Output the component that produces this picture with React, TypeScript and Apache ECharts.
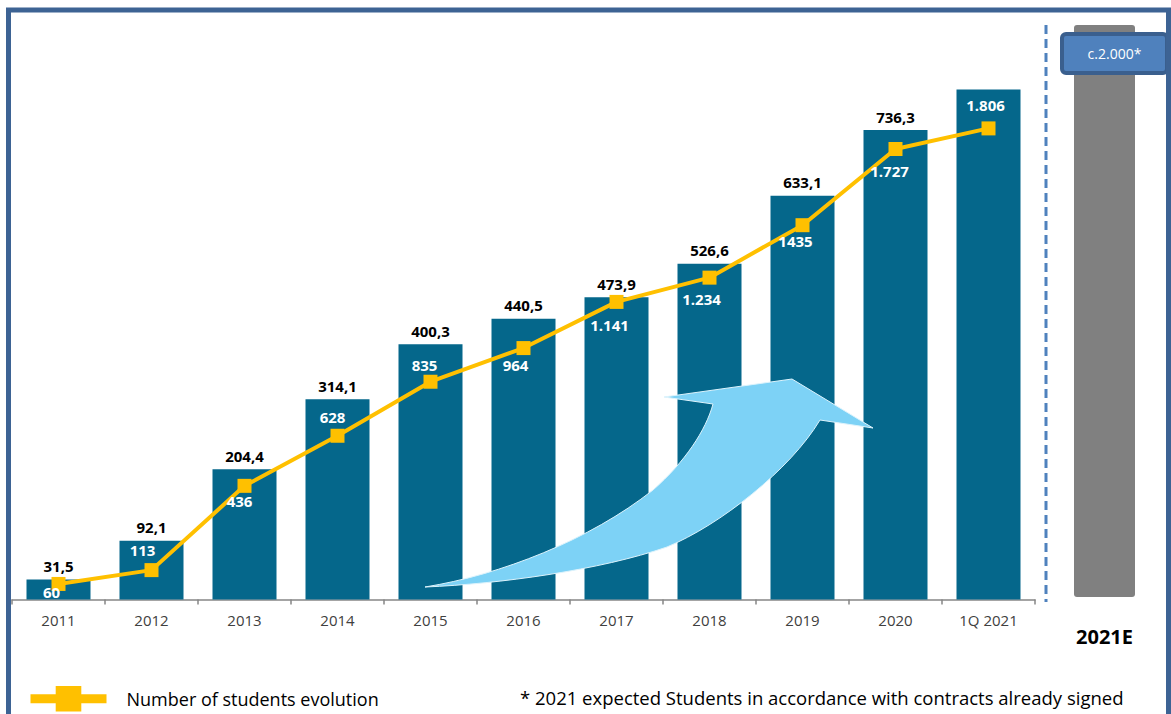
import React, { useEffect, useRef } from "react";
import * as echarts from "echarts";

const categories = ["2011", "2012", "2013", "2014", "2015", "2016", "2017", "2018", "2019", "2020", "1Q 2021"];
const revenue = [31.5, 92.1, 204.4, 314.1, 400.3, 440.5, 473.9, 526.6, 633.1, 736.3, 800];
const revenueLabels = ["31,5", "92,1", "204,4", "314,1", "400,3", "440,5", "473,9", "526,6", "633,1", "736,3", ""];
const students = [60, 113, 436, 628, 835, 964, 1141, 1234, 1435, 1727, 1806];
const studentLabels = ["60", "113", "436", "628", "835", "964", "1.141", "1.234", "1435", "1.727", "1.806"];
const estimateCategory = ["2021E"];
const estimateStudents = [2000];
const estimateLabel = "c.2.000*";
const legendName = "Number of students evolution";
const footnote = "* 2021 expected Students in accordance with contracts already signed";

// label placement (styling only)
const studentLabelOffsets: [number, number][] = [
  [-7, 8], [-9, -20], [-5, 15], [-5, -19], [-6, -17], [-8, 17],
  [-7, 23], [-8, 21], [-7, 16], [-6, 22], [-3, -23],
];

const ARROW_D =
  "M425,587 C500,584 600,570 667,547 C720,525 790,470 820,420 L873,428 L792,379 L664,397 L713,404 C706,430 685,462 653,490 C590,540 500,575 425,587 Z";

let registered = false;
function ensureShape() {
  if (registered) return;
  echarts.graphic.registerShape("growthArrow", echarts.graphic.extendPath(ARROW_D, {}));
  registered = true;
}

const FONT = "'Open Sans', 'Noto Sans', sans-serif";

export default function App() {
  const ref = useRef<HTMLDivElement>(null);
  useEffect(() => {
    if (!ref.current) return;
    ensureShape();
    const chart = echarts.init(ref.current, null, { renderer: "svg" });
    const option: any = {
      animation: false,
      backgroundColor: "#ffffff",
      textStyle: { fontFamily: FONT },
      grid: [
        { left: 12, top: 25.6, width: 1023, height: 574 },
        { left: 1064, top: 25, width: 81, height: 572 },
      ],
      xAxis: [
        {
          type: "category",
          gridIndex: 0,
          data: categories,
          axisLine: { lineStyle: { color: "#868686", width: 1.5 } },
          axisTick: { show: true, length: 5, interval: 0, lineStyle: { color: "#868686", width: 1.5 } },
          axisLabel: { color: "#404040", fontSize: 15, fontFamily: FONT, margin: 13, interval: 0 },
        },
        {
          type: "category",
          gridIndex: 1,
          data: estimateCategory,
          axisLine: { show: false },
          axisTick: { show: false },
          axisLabel: { color: "#000000", fontSize: 20, fontWeight: "bold", fontFamily: FONT, margin: 29 },
        },
      ],
      yAxis: [
        { type: "value", gridIndex: 0, min: 0, max: 900, show: false, splitLine: { show: false } },
        { type: "value", gridIndex: 0, min: 0, max: 2200, show: false, splitLine: { show: false } },
        { type: "value", gridIndex: 1, min: 0, max: 2000, show: false, splitLine: { show: false } },
      ],
      legend: {
        data: [legendName],
        left: 26,
        top: 686,
        padding: 0,
        itemWidth: 76,
        itemHeight: 32,
        lineStyle: { width: 9 },
        textStyle: { fontSize: 18, color: "#000000", fontFamily: FONT, padding: [0, 0, 0, 15] },
        selectedMode: false,
      },
      series: [
        {
          type: "bar",
          name: "Revenue",
          xAxisIndex: 0,
          yAxisIndex: 0,
          data: revenue,
          barWidth: 64,
          itemStyle: { color: "#05678B" },
          label: {
            show: true,
            position: "top",
            distance: 6,
            color: "#000000",
            fontSize: 15,
            fontWeight: "bold",
            fontFamily: FONT,
            formatter: (p: any) => revenueLabels[p.dataIndex],
          },
          z: 2,
        },
        {
          type: "line",
          name: legendName,
          xAxisIndex: 0,
          yAxisIndex: 1,
          data: students.map((v, i) => ({
            value: v,
            label: { offset: studentLabelOffsets[i] },
          })),
          symbol: "rect",
          symbolSize: 14,
          lineStyle: { color: "#FFC000", width: 4 },
          itemStyle: { color: "#FFC000" },
          label: {
            show: true,
            position: "inside",
            color: "#ffffff",
            fontSize: 15,
            fontWeight: "bold",
            fontFamily: FONT,
            formatter: (p: any) => studentLabels[p.dataIndex],
          },
          z: 10,
        },
        {
          type: "bar",
          name: "Estimate",
          xAxisIndex: 1,
          yAxisIndex: 2,
          data: estimateStudents,
          barWidth: 61,
          itemStyle: { color: "#808080", borderRadius: 3 },
          label: {
            show: true,
            position: [40.5, 28.5],
            align: "center",
            verticalAlign: "middle",
            formatter: () => estimateLabel,
            color: "#ffffff",
            fontSize: 14,
            fontFamily: FONT,
            width: 101,
            height: 35,
            lineHeight: 35,
            backgroundColor: "#4F81BD",
            borderColor: "#3A5F8E",
            borderWidth: 4,
            borderRadius: 2,
          },
          z: 2,
        },
      ],
      graphic: [
        {
          type: "rect",
          shape: { x: 8.5, y: 10, width: 1160, height: 740 },
          style: { fill: "none", stroke: "#3D6394", lineWidth: 5 },
          silent: true,
          z: 20,
        },
        {
          type: "growthArrow",
          x: 0,
          y: 0,
          scaleX: 1,
          scaleY: 1,
          style: { fill: "#7DD2F6", stroke: "#DDF3FC", lineWidth: 1 },
          silent: true,
          z: 5,
        },
        {
          type: "line",
          shape: { x1: 1046, y1: 25, x2: 1046, y2: 602 },
          style: { stroke: "#4F81BD", lineWidth: 3, lineDash: [9, 5] },
          silent: true,
          z: 5,
        },
        {
          type: "text",
          x: 520,
          y: 697,
          style: {
            text: footnote,
            fill: "#000000",
            font: `18.5px ${FONT}`,
            verticalAlign: "middle",
          },
          silent: true,
          z: 5,
        },
      ],
    };
    chart.setOption(option);
    return () => chart.dispose();
  }, []);
  return (
    <div
      ref={ref}
      style={{ position: "absolute", left: 0, top: 0, width: 1171, height: 714, background: "#fff" }}
    />
  );
}
